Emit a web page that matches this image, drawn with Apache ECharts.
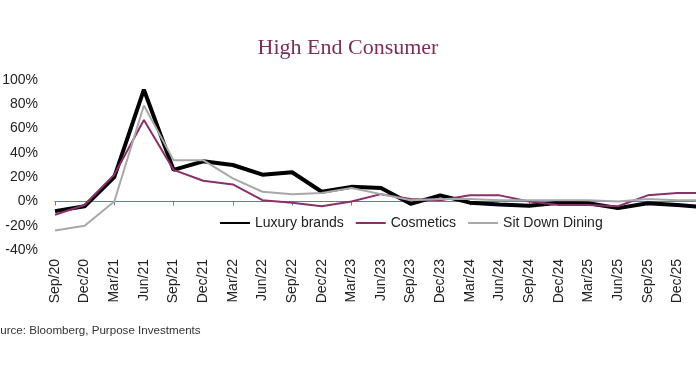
<!DOCTYPE html>
<html>
<head>
<meta charset="utf-8">
<script src="https://cdn.jsdelivr.net/npm/echarts@6/dist/echarts.min.js"></script>
<style>
  html, body { margin: 0; padding: 0; background: #fff; }
  #chart { width: 696px; height: 385px; }
</style>
</head>
<body>
<div id="chart"></div>
<script>
// quarterly labels, last one runs past the right edge
const categories = ['Sep/20', 'Dec/20', 'Mar/21', 'Jun/21', 'Sep/21', 'Dec/21', 'Mar/22', 'Jun/22',
  'Sep/22', 'Dec/22', 'Mar/23', 'Jun/23', 'Sep/23', 'Dec/23', 'Mar/24', 'Jun/24', 'Sep/24',
  'Dec/24', 'Mar/25', 'Jun/25', 'Sep/25', 'Dec/25', 'Mar/26']

const luxuryBrands = [-8, -4, 20, 92, 26, 33, 30, 22, 24, 8, 12, 11, -2, 5, -1, -2.5, -3.5,
  -1, -1.5, -5.5, -1.5, -3, -5]
const cosmetics = [-11, -3, 22, 67, 26, 17, 14, 1, -1, -4, 0, 6, 2, 1, 5, 5, 0,
  -3, -3, -4, 5, 7, 7]
const sitDownDining = [-24, -20, 0, 79, 34, 34, 19, 8, 6, 7, 11, 6, 1, 2, 2, 1, 1,
  1, 1, 0, 2, 1, 1]

const yTicks = { min: -40, max: 100, interval: 20 }

const font = 'Arial, "Liberation Sans", sans-serif'

const chart = echarts.init(document.getElementById('chart'))
chart.setOption({
  animation: false,
  title: {
    text: 'High End Consumer',
    left: 'center',
    top: 32,
    textStyle: {
      fontFamily: '"Liberation Serif", "DejaVu Serif", serif',
      fontSize: 22,
      fontWeight: 'normal',
      color: '#7B2D5E',
    },
  },
  legend: {
    data: ['Luxury brands', 'Cosmetics', 'Sit Down Dining'],
    left: 214,
    top: 211,
    itemWidth: 30,
    itemHeight: 12,
    itemGap: 11,
    itemStyle: { opacity: 0 },
    textStyle: { fontFamily: font, fontSize: 14, color: '#222' },
  },
  grid: {
    left: 55,
    top: 80,
    bottom: 135,
    width: 652,
    outerBoundsMode: 'none',
    containLabel: false,
  },
  xAxis: [
    {
      // zero line with ticks
      type: 'category',
      data: categories,
      boundaryGap: false,
      axisLine: { onZero: true, lineStyle: { color: '#5B7DB1', width: 1.2 } },
      axisTick: { show: true, inside: false, length: 4, lineStyle: { color: '#5B7DB1' } },
      axisLabel: { show: false },
      splitLine: { show: false },
    },
    {
      // labels along the bottom
      type: 'category',
      data: categories,
      boundaryGap: false,
      position: 'bottom',
      axisLine: { show: false, onZero: false },
      axisTick: { show: false },
      axisLabel: {
        rotate: 90,
        margin: 9,
        interval: 0,
        fontFamily: font,
        fontSize: 14,
        color: '#222',
      },
      splitLine: { show: false },
    },
  ],
  yAxis: {
    type: 'value',
    min: yTicks.min,
    max: yTicks.max,
    interval: yTicks.interval,
    axisLine: { show: false },
    axisTick: { show: false },
    splitLine: { show: false },
    axisLabel: {
      formatter: '{value}%',
      margin: 17,
      fontFamily: font,
      fontSize: 14,
      color: '#222',
    },
  },
  graphic: [
    {
      type: 'text',
      left: -14,
      top: 325,
      style: {
        text: 'Source: Bloomberg, Purpose Investments',
        fontFamily: font,
        fontSize: 11.6,
        fill: '#333',
      },
    },
  ],
  series: [
    {
      name: 'Luxury brands',
      type: 'line',
      data: luxuryBrands,
      symbol: 'none',
      lineStyle: { color: '#000', width: 4 },
      itemStyle: { color: '#000' },
    },
    {
      name: 'Cosmetics',
      type: 'line',
      data: cosmetics,
      symbol: 'none',
      lineStyle: { color: '#8B2F6A', width: 2 },
      itemStyle: { color: '#8B2F6A' },
    },
    {
      name: 'Sit Down Dining',
      type: 'line',
      data: sitDownDining,
      symbol: 'none',
      lineStyle: { color: '#A8A8A8', width: 2 },
      itemStyle: { color: '#A8A8A8' },
    },
  ],
})
</script>
</body>
</html>
